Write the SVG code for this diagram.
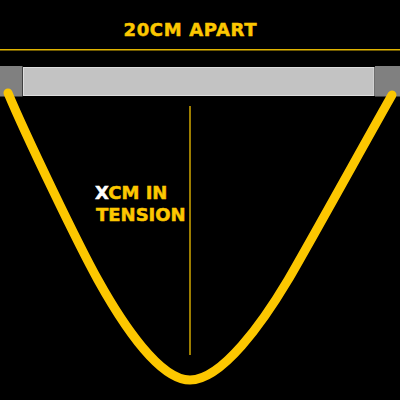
<svg xmlns="http://www.w3.org/2000/svg" width="400" height="400" viewBox="0 0 400 400">
<style>
.lbl{font-family:"DejaVu Sans","Liberation Sans",sans-serif;font-weight:bold;fill:#fcc700;stroke:#fcc700;stroke-width:0.5}
.blk{fill:#808080}
</style>
<rect x="0" y="0" width="400" height="400" fill="#000"/>
<g id="title"><text class="lbl" x="190" y="36" font-size="18" text-anchor="middle" textLength="133" lengthAdjust="spacing">20CM APART</text></g>
<g id="connectors">
<line x1="0" y1="49.8" x2="400" y2="49.8" stroke="#e0b400" stroke-width="1.6"/>
<line x1="190" y1="106" x2="190" y2="355" stroke="#e0b400" stroke-width="1.4"/>
</g>
<g id="left-anchor"><rect class="blk" x="0" y="66" width="22.5" height="30.5"/></g>
<g id="bar"><rect x="23.5" y="67.5" width="350.5" height="28" fill="#c3c3c3" stroke="#dedede" stroke-width="1"/></g>
<g id="right-anchor"><rect class="blk" x="375" y="66" width="25" height="30.5"/></g>
<g id="rope"><path d="M8,93 C27,138 78,244 98,280 C123,325 160,380 190,380 C222,380 263,322 288,280 C308,246 372,130 392,95" fill="none" stroke="#fcc700" stroke-width="9" stroke-linecap="round" stroke-linejoin="round"/></g>
<g id="label"><text class="lbl" x="95" y="199" font-size="18"><tspan fill="#fff" stroke="#fff">X</tspan>CM IN</text><text class="lbl" x="96" y="221" font-size="18">TENSION</text></g>
</svg>
